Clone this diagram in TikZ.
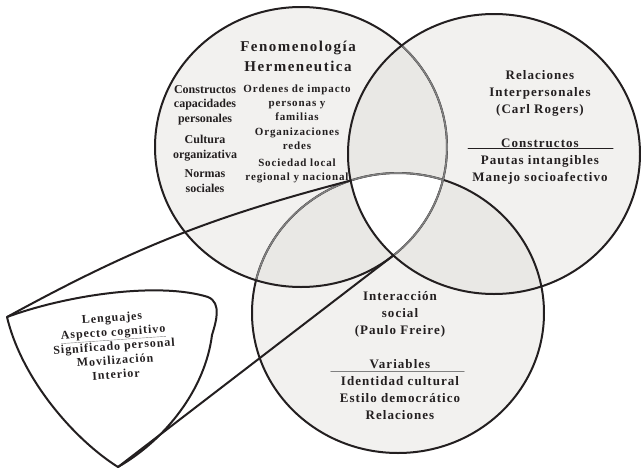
\documentclass[tikz,border=0pt]{standalone}
\usepackage{fontspec}
\setmainfont{Liberation Serif}
\newfontfamily\spaced[LetterSpace=8]{Liberation Serif}
\newfontfamily\widespaced[LetterSpace=10]{Liberation Serif}
\usetikzlibrary{intersections}

\definecolor{lobe}{HTML}{F2F1EF}
\definecolor{lens}{HTML}{E9E8E5}
\definecolor{ink}{HTML}{231F20}

\tikzset{
  ring/.style={insert path={ellipse [x radius=146pt, y radius=140pt]}},
  rim/.style={line width=2pt, ink},
  hidden rim/.style={line width=1.6pt, gray},
  heading/.style={align=center, anchor=base, text=ink, font=\widespaced\bfseries\fontsize{15}{20}\selectfont},
  plainlbl/.style={align=center, anchor=base, text=ink, font=\bfseries\fontsize{12}{14.5}\selectfont},
  spacedlbl/.style={align=center, anchor=base, text=ink, font=\spaced\bfseries\fontsize{11}{14}\selectfont},
  circlelbl/.style={align=center, anchor=base, text=ink, font=\spaced\bfseries\fontsize{13}{17}\selectfont},
}

\begin{document}
\begin{tikzpicture}[x=1pt, y=-1pt, line cap=round, line join=round]
	\useasboundingbox (0,0) rectangle (641,469);
	
	% Centres of the three circles
	\coordinate (F) at (301,147);
	\coordinate (R) at (494,154);
	\coordinate (S) at (398,313);
	
	\path[name path=cF] (F) [ring];
	\path[name path=cR] (R) [ring];
	\path[name path=cS] (S) [ring];
	
	% Corners of the white centre
	\path[name intersections={of=cR and cS, by={WL,WR}}];
	\path[name intersections={of=cF and cR, by={WT,WB}}];
	
	% Fills
	\foreach \c in {F, R, S} {
		\fill[lobe] (\c) [ring];
	}
	\begin{scope}
		\clip (F) [ring];
		\fill[lens] (R) [ring];
		\fill[lens] (S) [ring];
	\end{scope}
	\begin{scope}
		\clip (R) [ring];
		\fill[lens] (S) [ring];
	\end{scope}
	\begin{scope}
		\clip (F) [ring];
		\clip (R) [ring];
		\fill[white] (S) [ring];
	\end{scope}
	
	% Outlines, grey where covered
	\draw[rim] (S) [ring];
	\begin{scope}
		\clip (F) [ring];
		\draw[hidden rim] (S) [ring];
	\end{scope}
	\draw[rim] (F) [ring];
	\begin{scope}
		\clip (R) [ring];
		\draw[hidden rim] (F) [ring];
	\end{scope}
	\draw[rim] (R) [ring];
	
	% Callout
	\coordinate (TL) at (7,317);
	\coordinate (BT) at (118,467);
	\draw[rim] (TL) .. controls (70,294) and (160,282) .. (208,297)
		.. controls (222,303) and (216,322) .. (212,335)
		.. controls (205,390) and (165,440) .. (BT)
		.. controls (75,440) and (22,380) .. cycle;
	\draw[rim] (TL) to[bend left=7] (WL);
	\draw[rim] (BT) -- (WB);
	
	% Top circle (anchored at last baseline)
	\node[heading] (title) at (298,71) {Fenomenología\\Hermeneutica};
	\node[plainlbl] (constr) at (205,192) {Constructos\\capacidades\\personales\\[7pt]Cultura\\organizativa\\[5pt]Normas\\sociales};
	\node[spacedlbl] (orden) at (297,180) {Ordenes de impacto\\personas y\\familias\\[1.5pt]Organizaciones\\redes\\[2.5pt]Sociedad local\\regional y nacional};
	
	% Right circle
	\node[circlelbl] (rogers) at (540,181) {Relaciones\\Interpersonales\\(Carl Rogers)\\[17pt]Constructos\\Pautas intangibles\\Manejo socioafectivo};
	\draw[ink, line width=1pt] (468,148.5) -- (613,148.5);
	
	% Bottom circle
	\node[circlelbl] (freire) at (400,419) {Interacción\\social\\(Paulo Freire)\\[17pt]Variables\\Identidad cultural\\Estilo democrático\\Relaciones};
	\draw[gray, line width=1.2pt] (331,371.5) -- (464,371.5);
	
	% Callout text
	\node[align=center, text=ink, rotate=4, font=\spaced\bfseries\fontsize{12}{14.2}\selectfont] (lengua) at (114,346)
		{Lenguajes\\\textcolor{gray}{\underline{\textcolor{ink}{Aspecto cognitivo}}}\\Significado personal\\Movilización\\Interior};
	
\end{tikzpicture}
\end{document}
